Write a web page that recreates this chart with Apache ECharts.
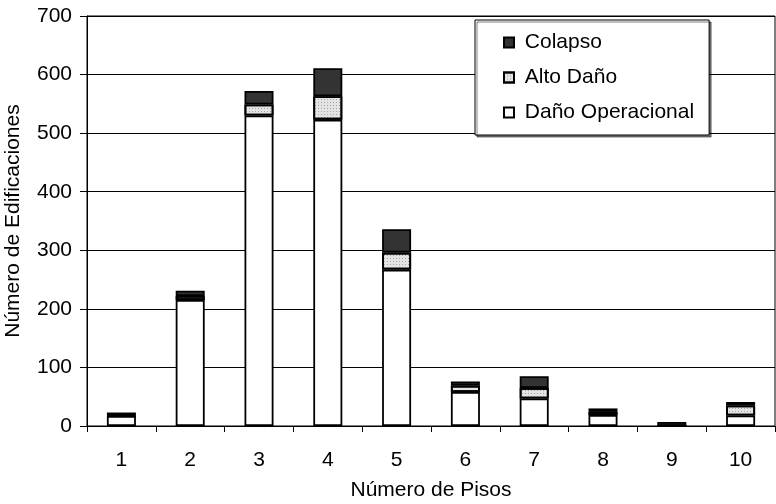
<!DOCTYPE html>
<html><head><meta charset="utf-8">
<script src="https://cdn.jsdelivr.net/npm/echarts@6/dist/echarts.min.js"></script>
<style>html,body{margin:0;padding:0;background:#fff}#c{width:776px;height:504px}</style>
</head><body><div id="c"></div>
<script>
const categories = ['1','2','3','4','5','6','7','8','9','10'];
const danoOperacional = [17, 215, 530, 523, 267, 58, 47, 19, 0, 18];
const altoDano = [1, 7, 19, 40, 29, 11, 18, 5, 0, 17];
const colapso = [5, 9, 23, 48, 40, 7, 20, 6, 7, 6];
const yTicks = {min: 0, max: 700, interval: 100};

const font = 'Liberation Sans, Arial, sans-serif';
const fs = 21;
const chart = echarts.init(document.getElementById('c'), null, {renderer: 'canvas'});
const base = {type: 'bar', stack: 't', barWidth: 29};
chart.setOption({
  animation: false,
  backgroundColor: '#fff',
  grid: {left: 87, right: 1, top: 16, bottom: 78, show: true, borderColor: '#000', borderWidth: 1,
    backgroundColor: 'transparent', containLabel: false, outerBoundsMode: 'none'},
  legend: {
    orient: 'vertical', left: 475, top: 20,
    data: ['Colapso', 'Alto Daño', 'Daño Operacional'],
    formatter: ' {name}',
    backgroundColor: '#fff', borderColor: '#000', borderWidth: 1,
    shadowColor: 'rgba(0,0,0,0.5)', shadowOffsetX: 2, shadowOffsetY: 2, shadowBlur: 0,
    padding: [12, 15, 12, 28], itemGap: 14, itemWidth: 10, itemHeight: 10, icon: 'rect',
    textStyle: {fontFamily: font, fontSize: fs, color: '#000'}
  },
  xAxis: {
    type: 'category', data: categories,
    name: 'Número de Pisos', nameLocation: 'middle', nameGap: 54,
    nameTextStyle: {fontFamily: font, fontSize: fs, color: '#000'},
    axisLine: {lineStyle: {color: '#000', width: 1}},
    axisTick: {show: true, length: 6, lineStyle: {color: '#000'}},
    axisLabel: {fontFamily: font, fontSize: fs, color: '#000', margin: 24}
  },
  yAxis: {
    type: 'value', min: yTicks.min, max: yTicks.max, interval: yTicks.interval,
    name: 'Número de Edificaciones', nameLocation: 'middle', nameGap: 63,
    nameTextStyle: {fontFamily: font, fontSize: fs, color: '#000'},
    axisLine: {show: true, lineStyle: {color: '#000', width: 1}},
    axisTick: {show: true, length: 7, lineStyle: {color: '#000'}},
    axisLabel: {fontFamily: font, fontSize: fs, color: '#000', margin: 15},
    splitLine: {show: true, lineStyle: {color: '#000', width: 1}}
  },
  series: [
    Object.assign({}, base, {name: 'Daño Operacional', data: danoOperacional,
      itemStyle: {color: '#fff', borderColor: '#000', borderWidth: 1.8}}),
    Object.assign({}, base, {name: 'Alto Daño', data: altoDano,
      itemStyle: {color: '#e4e4e4', borderColor: '#000', borderWidth: 1.8,
        decal: {symbol: 'rect', symbolSize: 1, dashArrayX: [1, 2], dashArrayY: [1, 2], color: 'rgba(120,120,120,0.6)'}}}),
    Object.assign({}, base, {name: 'Colapso', data: colapso,
      itemStyle: {color: '#333', borderColor: '#000', borderWidth: 1.8}})
  ]
});
</script></body></html>
